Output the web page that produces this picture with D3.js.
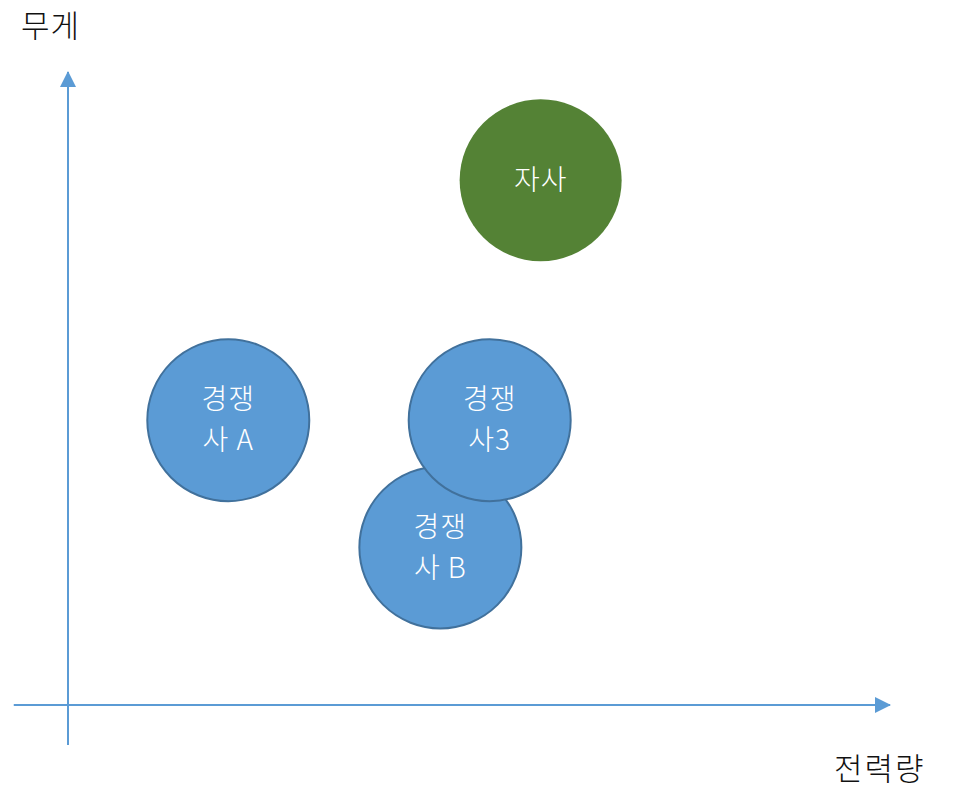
<!DOCTYPE html>
<html>
<head>
<meta charset="utf-8">
<script src="https://cdn.jsdelivr.net/npm/d3@7"></script>
<style>
  body { margin: 0; background: #fff; }
  text { font-family: "Noto Sans CJK KR", "Noto Sans", sans-serif; font-weight: 300; }
</style>
</head>
<body>
<svg id="chart"></svg>
<script>
// Positioning map data (axis units 0-100)
const companies = ["경쟁사B", "경쟁사3", "경쟁사A", "자사"];
const labelLines = [["경쟁", "사 B"], ["경쟁", "사3"], ["경쟁", "사 A"], ["자사"]];
const powerValues = [45.3, 51.3, 19.5, 57.5];   // 전력량 (x)
const weightValues = [24.9, 45.0, 45.0, 82.9];  // 무게 (y)
const isOwn = [false, false, false, true];

const width = 955;
const height = 789;

const svg = d3.select("#chart")
    .attr("width", width)
    .attr("height", height);

// Scales
const xScale = d3.scaleLinear().domain([0, 100]).range([68, 890]);
const yScale = d3.scaleLinear().domain([0, 100]).range([705, 72]);

const axisColor = "#5B9BD5";

// Arrow head marker
svg.append("defs").append("marker")
    .attr("id", "arrow")
    .attr("viewBox", "0 0 16 16")
    .attr("refX", 15)
    .attr("refY", 8)
    .attr("markerWidth", 16)
    .attr("markerHeight", 16)
    .attr("markerUnits", "userSpaceOnUse")
    .attr("orient", "auto")
    .append("path")
    .attr("d", "M0,0 L16,8 L0,16 Z")
    .attr("fill", axisColor);

// X axis
svg.append("line")
    .attr("x1", xScale(-6.6))
    .attr("x2", xScale(100))
    .attr("y1", yScale(0))
    .attr("y2", yScale(0))
    .attr("stroke", axisColor)
    .attr("stroke-width", 2)
    .attr("marker-end", "url(#arrow)");

// Y axis
svg.append("line")
    .attr("x1", xScale(0))
    .attr("x2", xScale(0))
    .attr("y1", yScale(-6.3))
    .attr("y2", yScale(100))
    .attr("stroke", axisColor)
    .attr("stroke-width", 2)
    .attr("marker-end", "url(#arrow)");

// Axis titles
svg.append("text")
    .attr("x", 21)
    .attr("y", 37)
    .attr("font-size", 31)
    .attr("letter-spacing", 1)
    .attr("fill", "#111")
    .text("무게");

svg.append("text")
    .attr("x", 834)
    .attr("y", 780)
    .attr("font-size", 31)
    .attr("letter-spacing", 2)
    .attr("fill", "#111")
    .text("전력량");

// Bubbles
const nodes = svg.selectAll(".company")
    .data(companies)
    .enter()
    .append("g")
    .attr("class", "company")
    .attr("transform", (d, i) => `translate(${xScale(powerValues[i])}, ${yScale(weightValues[i])})`);

nodes.append("circle")
    .attr("r", d => 81)
    .attr("fill", (d, i) => isOwn[i] ? "#548235" : "#5B9BD5")
    .attr("stroke", (d, i) => isOwn[i] ? "none" : "#41719C")
    .attr("stroke-width", 2);

nodes.each(function(d, i) {
    const lines = labelLines[i];
    const label = d3.select(this).append("text")
        .attr("text-anchor", "middle")
        .attr("font-size", 28)
        .attr("letter-spacing", 1)
        .attr("fill", "#fff");
    lines.forEach((line, j) => {
        label.append("tspan")
            .attr("x", 0)
            .attr("y", (j - (lines.length - 1) / 2) * 41)
            .attr("dy", "0.35em")
            .text(line);
    });
});
</script>
</body>
</html>
